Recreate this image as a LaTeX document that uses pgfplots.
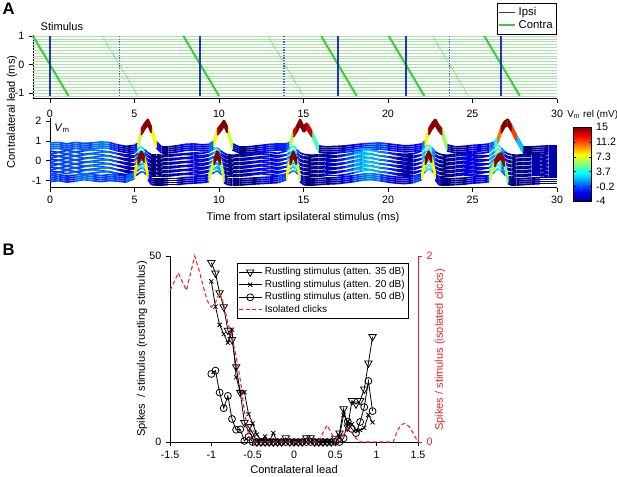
\documentclass[border=0pt]{standalone}
\usepackage{fontspec}
\setmainfont{Liberation Sans}
\usepackage{pgfplots}
\usepackage{pgfplotstable}
\pgfplotsset{compat=1.18}

\definecolor{ipsi}{HTML}{2233BB}
\definecolor{contra}{HTML}{3CCB3C}
\definecolor{contrabg}{HTML}{A8E4A8}
\definecolor{clickred}{HTML}{E8222A}

\pgfplotsset{
  base/.style={scale only axis, axis line style={black,line width=0.5pt},
    tick align=outside, major tick length=3pt, tick style={black,line width=0.5pt},
    ticklabel style={font=\fontsize{8}{9}\selectfont},
    /pgf/number format/assume math mode=true,
    axis x line*=bottom, axis y line*=left, clip=false},
  tr/.style={mesh, point meta=explicit, line width=1.3pt, forget plot},
}

% Vm patterns (mV): upper spiking, two middle, lower spiking
\pgfplotstableread{
t     A     M1    M2    D
0     0     -0.5  -1.5  -1
0.5   0.5   -1.5  0.5   0
1     -1    0.5   -1    -1.5
1.5   0.5   -1    1     -0.5
2     -0.5  0     -1.5  1
2.5   0     1     -0.5  0
3     1     0     0.5   -1
3.5   0.5   -1    1     0
4     -2    -3    -1    -0.5
4.5   -3.5  -4    -3.5  -1.5
5     -2.5  -2    -3.5  2
5.2   0     2     -1.5  16
5.4   14    4     1     24
5.6   20    1     0     18
5.8   24    -2    -3    1
6.0   16    -4    -4    -4
6.3   1     -4    -4    -4.5
6.6   -4    -4.5  -4    -4.5
7     -4    -4    -3.5  -4
7.5   -3    -3.5  -2.5  -4
8     -1.5  -3    -1.5  -3
8.5   -1    -2    -2    -2.5
9     -2    -2.5  -3    -2
9.4   -1.5  -1    -2    -1
9.7   2     2     0     16
9.9   14    3     2     24
10.1  18    0     -1    16
10.3  23    -2.5  -3    -2
10.5  16    -4    -4    -4
10.8  -1    -4.5  -4    -4.5
11.2  -4    -4    -3.5  -4.5
11.6  -4    -3.5  -3    -4
12    -3.5  -3    -2    -3.5
12.5  -2.5  -2    -1    -3
13    -1.5  -1.5  -2    -2.5
13.5  -1    -2.5  -3    -2
14    -1    0     -2    1
14.2  1     3     0     16
14.4  12    5     2     24
14.6  17    1     0     16
14.8  24    -2    -3    -1
15.0  17    -3.5  -4    -4
15.2  20    -4    -4.5  -4.5
15.5  12    -4.5  -4    -4.5
15.9  -3    -4    -3.5  -4
16.3  -4    -3.5  -3    -3.5
17    -3.5  -2    -3    -3
17.5  -3    -0.5  -2    -2
18    -2    1     0     -1
18.5  -1    2     2     0.5
19    -0.5  1     2.5   1
19.5  0     -1    1     0
20    -1    -2    0     -1.5
20.5  -2    -3    -2    -2.5
21    -3    -3.5  -3.5  -3
21.5  -2.5  -3    -3.5  -2
22    -1    0     -2    1
22.2  2     4     1     16
22.4  14    6     4     24
22.6  20    3     2     18
22.8  24    -1    -2    1
23.0  18    -3    -4    -4
23.2  14    -4    -4.5  -4.5
23.5  -2    -4.5  -4    -4.5
24    -4    -3.5  -3    -4
24.5  -3.5  -2.5  -2    -3.5
25    -2.5  -2    -2    -2.5
25.5  -2    -2.5  -3    -2
26    -1    -1    -3    -1
26.3  1     4     1     14
26.5  6     6     4     20
26.7  16    3     2     22
26.9  22    -1    -2    14
27.1  24    -3    -4    -3
27.3  18    -4    -4.5  -4.5
27.6  8     -4.5  -4    -4.5
28    -4    -4    -3.5  -4
28.5  -4    -3.5  -3    -3.5
29    -3.5  -3.5  -3    -3
29.5  -3    -3    -3.5  -3
30    -3    -3    -3.5  -3
}\vm

\pgfplotstableread{
x     tri   crs   cir
-1.00 48.2  43.2  18.3
-0.95 45.4  36.4  19.2
-0.90 40.1  31.5  13.3
-0.85 36.3  29.0  9.1
-0.80 30.0  26.7  12.4
-0.75 27.5  30.2  6.2
-0.70 20.2  17.4  3.3
-0.65 13.3  13.5  3.4
-0.60 5.2   13.4  0.3
-0.55 4.1   7.5   1.4
-0.50 2.4   5.0   0
-0.45 0     2.0   0
-0.40 0     0.5   0
-0.35 0     1.5   0
-0.30 0     0     0
-0.25 0     2.4   0
-0.20 0     0     0
-0.15 0     0     0
-0.10 1.1   0     0
-0.05 0     0     0
0.00  0     0     0
0.05  0     0     0
0.10  0     0     0
0.15  1.1   0     0
0.20  1.1   0     0
0.25  0     0     0
0.30  0     0     0
0.35  0     0     0
0.40  0     0     0
0.45  0     0     0
0.50  1.0   0     0
0.55  2.4   1.5   0
0.60  8.9   7.3   1.0
0.65  4.0   5.5   5.5
0.70  11.1  4.8   3.5
0.75  10.2  3.2   2.4
0.80  11.1  3.2   5.4
0.85  14.2  3.8   9.4
0.90  21.2  7.3   16.4
0.95  28.3  5.3   8.3
}\rustle

\pgfplotstableread{
x     y
-1.50 1.63
-1.45 1.72
-1.40 1.82
-1.35 1.72
-1.30 1.63
-1.25 1.82
-1.20 2.00
-1.15 1.85
-1.10 1.68
-1.05 1.52
-1.00 1.45
-0.95 1.50
-0.90 1.61
-0.85 1.48
-0.80 1.28
-0.75 1.12
-0.70 0.92
-0.65 0.67
-0.60 0.33
-0.55 0.08
-0.50 0
0.30  0
0.35  0.10
0.40  0.18
0.45  0.10
0.50  0
0.55  0
0.60  0.08
0.65  0.14
0.70  0.10
0.75  0.04
0.80  0
1.20  0
1.25  0.12
1.30  0.19
1.35  0.20
1.40  0.16
1.45  0.08
1.50  0
}\clicks

\begin{document}
\begin{tikzpicture}
\path[use as bounding box] (0,0) rectangle (462.75pt,-357pt);

% ---------- A: stimulus ----------
\begin{axis}[base, at={(24.75pt,-74.03pt)}, anchor=south west, width=393pt, height=48.08pt,
  xmin=-1, xmax=30, ymin=-1.2, ymax=1.05, xtick={0,5,...,30}, ytick={-1,0,1},
  xticklabel style={yshift=-2pt},
  unbounded coords=jump,
  legend style={at={(1,1.493)}, anchor=north east, draw=black, line width=0.5pt,
    font=\fontsize{8.5}{9.5}\selectfont, inner sep=1pt, row sep=-2pt, cells={anchor=west}},
  legend image code/.code={\draw[#1,line width=1.2pt] (0pt,0pt) -- (12pt,0pt);}]
\addplot[contrabg, line width=0.5pt, forget plot] coordinates {
  (-1,1)(30,1) (nan,nan) (-1,0.9)(30,0.9) (nan,nan) (-1,0.8)(30,0.8) (nan,nan)
  (-1,0.7)(30,0.7) (nan,nan) (-1,0.6)(30,0.6) (nan,nan) (-1,0.5)(30,0.5) (nan,nan)
  (-1,0.4)(30,0.4) (nan,nan) (-1,0.3)(30,0.3) (nan,nan) (-1,0.2)(30,0.2) (nan,nan)
  (-1,0.1)(30,0.1) (nan,nan) (-1,0)(30,0) (nan,nan) (-1,-0.1)(30,-0.1) (nan,nan)
  (-1,-0.2)(30,-0.2) (nan,nan) (-1,-0.3)(30,-0.3) (nan,nan) (-1,-0.4)(30,-0.4) (nan,nan)
  (-1,-0.5)(30,-0.5) (nan,nan) (-1,-0.6)(30,-0.6) (nan,nan) (-1,-0.7)(30,-0.7) (nan,nan)
  (-1,-0.8)(30,-0.8) (nan,nan) (-1,-0.9)(30,-0.9) (nan,nan) (-1,-1)(30,-1) (nan,nan)
  (-1,-1.1)(30,-1.1)};
\addplot[contra!70, densely dotted, line width=1pt, forget plot] coordinates {
  (3.1,1)(5.2,-1.1) (nan,nan) (12.9,1)(15,-1.1) (nan,nan) (22.65,1)(24.75,-1.1)};
\addplot[contra, line width=1.5pt, forget plot] coordinates {
  (-1,1)(1.1,-1.1) (nan,nan) (7.9,1)(10,-1.1) (nan,nan) (16.05,1)(18.15,-1.1) (nan,nan)
  (20.05,1)(22.15,-1.1) (nan,nan) (25.7,1)(27.8,-1.1)};
\addplot[ipsi!80, densely dotted, line width=1pt, forget plot] coordinates {
  (4.1,1)(4.1,-1.1) (nan,nan) (13.85,1)(13.85,-1.1) (nan,nan) (23.65,1)(23.65,-1.1)};
\addplot[ipsi, line width=1.5pt, forget plot] coordinates {
  (0,1)(0,-1.1) (nan,nan) (8.9,1)(8.9,-1.1) (nan,nan) (17.05,1)(17.05,-1.1) (nan,nan)
  (21.05,1)(21.05,-1.1) (nan,nan) (26.7,1)(26.7,-1.1)};
\addlegendimage{ipsi}\addlegendentry{Ipsi}
\addlegendimage{contra}\addlegendentry{Contra}
\end{axis}

% ---------- A: Vm traces ----------
\begin{axis}[base, at={(37.5pt,-140.63pt)}, anchor=south west, width=380.25pt, height=52pt,
  xmin=0, xmax=30, ymin=-1.35, ymax=2.15, xtick={0,5,...,30}, ytick={-1,0,1,2},
  colormap/jet, point meta min=-4, point meta max=15, colorbar,
  colorbar style={at={(parent axis.north east)}, anchor=north west, xshift=3.75pt, yshift=-6.75pt,
    width=13.5pt, height=55.5pt, scale only axis, axis line style={black,line width=0.5pt},
    ytick={-4,-0.2,3.6,7.4,11.2,15}, yticklabels={-4,-0.2,3.7,7.3,11.2,15},
    yticklabel style={font=\fontsize{8}{9}\selectfont}, major tick length=2pt,
    tick style={black}}]
\addplot[tr] table[x=t, y expr=0.9+0.05*\thisrow{A}, meta=A] {\vm};
\addplot[tr] table[x=t, y expr=0.8+0.05*\thisrow{A}, meta=A] {\vm};
\addplot[tr] table[x=t, y expr=0.7+0.05*\thisrow{A}, meta=A] {\vm};
\addplot[tr] table[x=t, y expr=0.6+0.05*\thisrow{A}, meta=A] {\vm};
\addplot[tr] table[x=t, y expr=0.5+0.05*\thisrow{M1}, meta=M1] {\vm};
\addplot[tr] table[x=t, y expr=0.4+0.05*\thisrow{M2}, meta=M2] {\vm};
\addplot[tr] table[x=t, y expr=0.3+0.05*\thisrow{M1}, meta=M1] {\vm};
\addplot[tr] table[x=t, y expr=0.2+0.05*\thisrow{M2}, meta=M2] {\vm};
\addplot[tr] table[x=t, y expr=0.1+0.05*\thisrow{M1}, meta=M1] {\vm};
\addplot[tr] table[x=t, y expr=0.0+0.05*\thisrow{M2}, meta=M2] {\vm};
\addplot[tr] table[x=t, y expr=-0.1+0.05*\thisrow{M1}, meta=M1] {\vm};
\addplot[tr] table[x=t, y expr=-0.2+0.05*\thisrow{M2}, meta=M2] {\vm};
\addplot[tr] table[x=t, y expr=-0.3+0.05*\thisrow{M1}, meta=M1] {\vm};
\addplot[tr] table[x=t, y expr=-0.4+0.05*\thisrow{M2}, meta=M2] {\vm};
\addplot[tr] table[x=t, y expr=-0.5+0.05*\thisrow{M1}, meta=M1] {\vm};
\addplot[tr] table[x=t, y expr=-0.6+0.05*\thisrow{M2}, meta=M2] {\vm};
\addplot[tr] table[x=t, y expr=-0.7+0.05*\thisrow{D}, meta=D] {\vm};
\addplot[tr] table[x=t, y expr=-0.8+0.05*\thisrow{D}, meta=D] {\vm};
\addplot[tr] table[x=t, y expr=-0.9+0.05*\thisrow{D}, meta=D] {\vm};
\addplot[tr] table[x=t, y expr=-1.0+0.05*\thisrow{D}, meta=D] {\vm};
\end{axis}

% ---------- B ----------
\begin{axis}[base, at={(127.5pt,-331.5pt)}, anchor=south west, width=186pt, height=139.5pt,
  xmin=-1.5, xmax=1.5, ymin=0, ymax=50, xtick={-1.5,-1,...,1.5}, ytick={0,50},
  legend style={at={(0.964,0.962)}, anchor=north east, draw=black, line width=0.6pt,
    font=\fontsize{7.5}{8.5}\selectfont, inner sep=1pt, row sep=-1.5pt, cells={anchor=west}}]
\addplot[black, line width=0.6pt, mark=triangle, mark size=3.2pt, mark options={rotate=180}] table[x=x, y=tri] {\rustle};
\addlegendentry{Rustling stimulus (atten. 35 dB)}
\addplot[black, line width=0.6pt, mark=x, mark size=2.2pt] table[x=x, y=crs] {\rustle};
\addlegendentry{Rustling stimulus (atten. 20 dB)}
\addplot[black, line width=0.6pt, mark=o, mark size=2.6pt] table[x=x, y=cir] {\rustle};
\addlegendentry{Rustling stimulus (atten. 50 dB)}
\addlegendimage{clickred, line width=0.8pt, dash pattern=on 3pt off 2pt}
\addlegendentry{Isolated clicks}
\end{axis}
\begin{axis}[base, at={(127.5pt,-331.5pt)}, anchor=south west, width=186pt, height=139.5pt,
  xmin=-1.5, xmax=1.5, ymin=0, ymax=2, axis x line=none, axis y line*=right, ytick={0,2},
  axis line style={clickred}, tick style={clickred}, yticklabel style={clickred}]
\addplot[clickred, line width=0.8pt, dash pattern=on 3pt off 2pt] table[x=x, y=y] {\clicks};
\end{axis}

% ---------- labels ----------
\node[font=\bfseries\fontsize{12.5}{14}\selectfont] at (6.4pt,-6.75pt) {A};
\node[font=\bfseries\fontsize{12.5}{14}\selectfont] at (6.4pt,-187.5pt) {B};
\node[anchor=west, font=\fontsize{8.3}{10}\selectfont] at (27pt,-20.25pt) {Stimulus};
\node[rotate=90, font=\fontsize{8.3}{10}\selectfont] at (9pt,-84pt) {Contralateral lead (ms)};
\node[font=\fontsize{8.3}{10}\selectfont] at (46.5pt,-96pt) {\textit{V}\textsubscript{m}};
\node[font=\fontsize{7.4}{9}\selectfont] at (444.5pt,-86.25pt) {V\textsubscript{m} rel (mV)};
\node[font=\fontsize{8.3}{10}\selectfont] at (227.25pt,-163.5pt) {Time from start ipsilateral stimulus (ms)};
\node[font=\fontsize{8.3}{10}\selectfont] at (220.5pt,-352.5pt) {Contralateral lead};
\node[rotate=90, font=\fontsize{8.3}{10}\selectfont] at (106.5pt,-261.75pt) {Spikes\ \ / stimulus (rustling stimulus)};
\node[rotate=90, text=clickred, font=\fontsize{8.3}{10}\selectfont] at (330pt,-262.5pt) {Spikes / stimulus (isolated clicks)};
\end{tikzpicture}
\end{document}
